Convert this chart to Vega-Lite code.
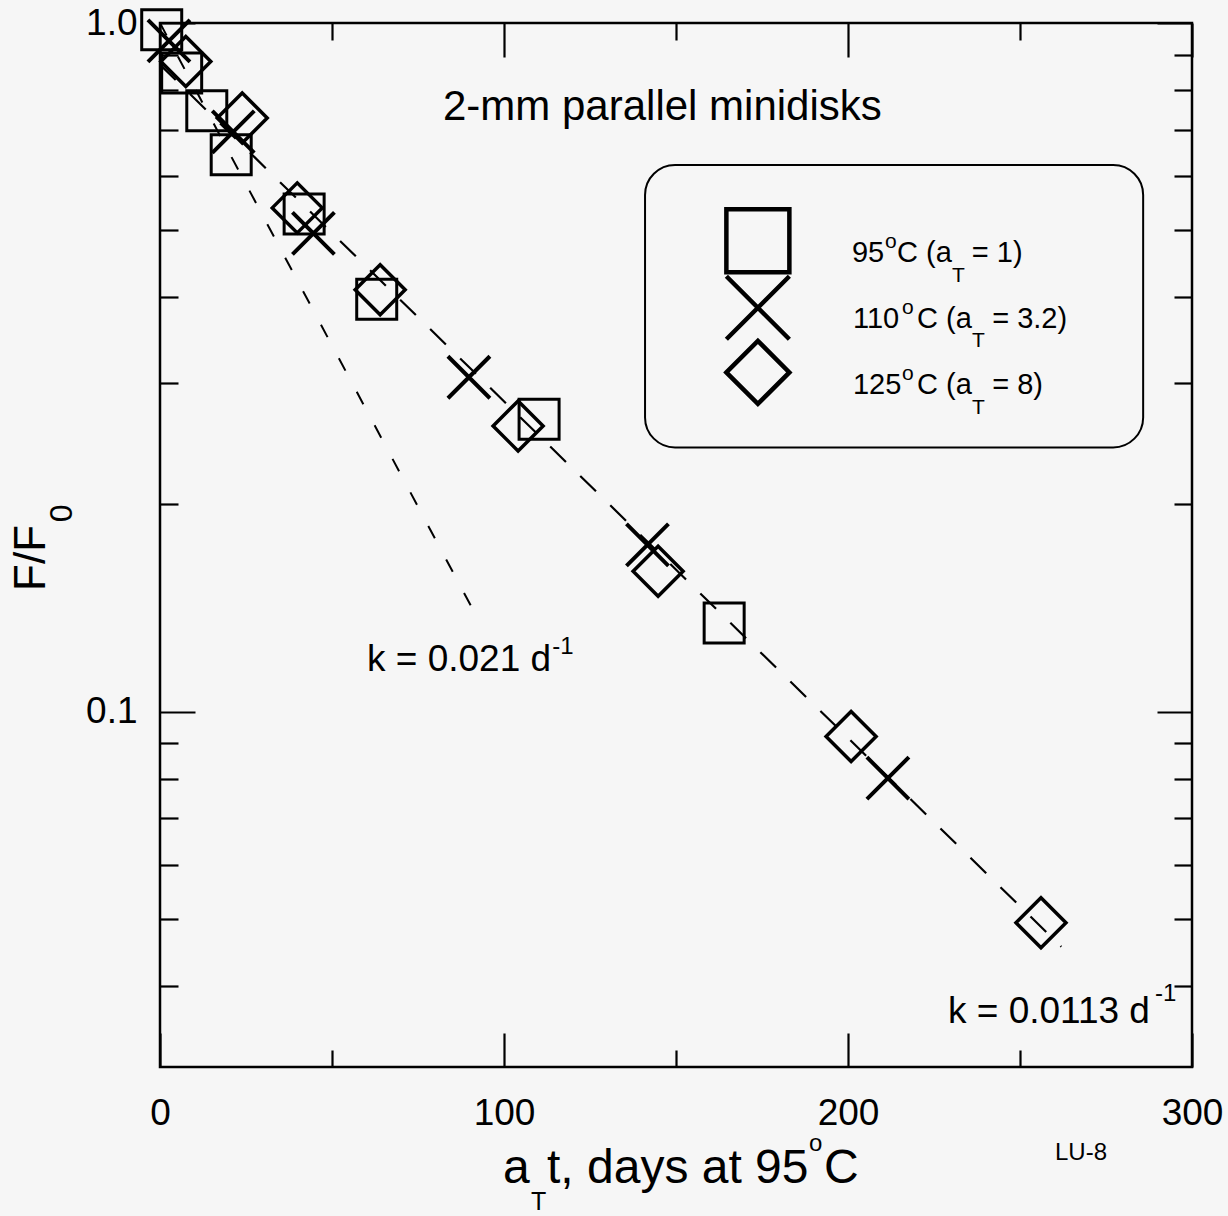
{
  "$schema": "https://vega.github.io/schema/vega-lite/v6.json",
  "width": 1032,
  "height": 1044,
  "autosize": {"type": "none"},
  "padding": {"left": 160, "top": 23, "right": 36, "bottom": 149},
  "background": "#f6f6f6",
  "config": {
    "font": "Liberation Sans",
    "view": {"stroke": "#000", "strokeWidth": 2.5},
    "axis": {
      "domain": false,
      "grid": false,
      "tickColor": "#000",
      "tickWidth": 2.2,
      "labelFont": "Liberation Sans",
      "labelFontSize": 37,
      "labelColor": "#000"
    }
  },
  "datasets": {
    "fit1": [
      {"x": 0, "y": 0.87},
      {"x": 262, "y": 0.0456}
    ],
    "fit2": [
      {"x": 0, "y": 1.0},
      {"x": 91.6, "y": 0.1388}
    ],
    "pts": [
      {"series": "95°C", "x": 0.5, "y": 0.978},
      {"series": "95°C", "x": 6.3, "y": 0.846},
      {"series": "95°C", "x": 13.6, "y": 0.746},
      {"series": "95°C", "x": 20.7, "y": 0.644},
      {"series": "95°C", "x": 41.9, "y": 0.528},
      {"series": "95°C", "x": 63.0, "y": 0.397},
      {"series": "95°C", "x": 110.2, "y": 0.266},
      {"series": "95°C", "x": 164.0, "y": 0.1346},
      {"series": "110°C", "x": 2.6, "y": 0.942},
      {"series": "110°C", "x": 21.3, "y": 0.695},
      {"series": "110°C", "x": 44.6, "y": 0.495},
      {"series": "110°C", "x": 89.8, "y": 0.306},
      {"series": "110°C", "x": 141.7, "y": 0.1747},
      {"series": "110°C", "x": 211.6, "y": 0.0801},
      {"series": "125°C", "x": 7.5, "y": 0.879},
      {"series": "125°C", "x": 23.9, "y": 0.728},
      {"series": "125°C", "x": 39.9, "y": 0.539},
      {"series": "125°C", "x": 64.0, "y": 0.41},
      {"series": "125°C", "x": 104.1, "y": 0.26},
      {"series": "125°C", "x": 144.8, "y": 0.16},
      {"series": "125°C", "x": 200.9, "y": 0.0921},
      {"series": "125°C", "x": 256.1, "y": 0.0494}
    ],
    "legsym": [
      {"series": "95°C", "x": 173.8, "y": 0.483},
      {"series": "110°C", "x": 173.8, "y": 0.386},
      {"series": "125°C", "x": 173.8, "y": 0.311}
    ],
    "box": [
      {"x": 141, "x2": 285.8, "y": 0.622, "y2": 0.242}
    ],
    "texts": [
      {"role": "title", "x": 82.27, "y": 0.7234, "text": "2-mm parallel minidisks"},
      {"role": "leg", "x": 201.16, "y": 0.4503, "text": "95"},
      {"role": "legsmall", "x": 210.76, "y": 0.472, "text": "o"},
      {"role": "leg", "x": 214.24, "y": 0.4503, "text": "C (a"},
      {"role": "legsmall", "x": 230.2, "y": 0.4212, "text": "T"},
      {"role": "leg", "x": 236.0, "y": 0.4503, "text": "= 1)"},
      {"role": "leg", "x": 201.45, "y": 0.3613, "text": "110"},
      {"role": "legsmall", "x": 215.7, "y": 0.3786, "text": "o"},
      {"role": "leg", "x": 220.06, "y": 0.3613, "text": "C (a"},
      {"role": "legsmall", "x": 236.05, "y": 0.338, "text": "T"},
      {"role": "leg", "x": 241.9, "y": 0.3613, "text": "= 3.2)"},
      {"role": "leg", "x": 201.45, "y": 0.2889, "text": "125"},
      {"role": "legsmall", "x": 215.7, "y": 0.3028, "text": "o"},
      {"role": "leg", "x": 220.06, "y": 0.2889, "text": "C (a"},
      {"role": "legsmall", "x": 236.05, "y": 0.2703, "text": "T"},
      {"role": "leg", "x": 241.9, "y": 0.2889, "text": "= 8)"},
      {"role": "k", "x": 60.17, "y": 0.1147, "text": "k = 0.021 d"},
      {"role": "ksmall", "x": 114.0, "y": 0.1214, "text": "-1"},
      {"role": "k", "x": 229.07, "y": 0.0353, "text": "k = 0.0113 d"},
      {"role": "ksmall", "x": 289.24, "y": 0.038, "text": "-1"},
      {"role": "xt", "x": 99.71, "y": 0.0207, "text": "a"},
      {"role": "xtsmall", "x": 107.85, "y": 0.01891, "text": "T"},
      {"role": "xt", "x": 112.5, "y": 0.0207, "text": "t, days at 95"},
      {"role": "xtsup", "x": 188.66, "y": 0.02303, "text": "o"},
      {"role": "xt", "x": 193.0, "y": 0.0207, "text": "C"},
      {"role": "tag", "x": 260.17, "y": 0.02235, "text": "LU-8"}
    ],
    "ytexts": [
      {"role": "yt", "x": -33.43, "y": 0.1498, "text": "F/F"},
      {"role": "ytsmall", "x": -25.58, "y": 0.1885, "text": "0"}
    ]
  },
  "layer": [
    {
      "data": {"name": "fit1"},
      "mark": {"type": "line", "color": "#000", "strokeWidth": 2.2, "strokeDash": [22, 20]},
      "encoding": {
        "x": {
          "field": "x", "type": "quantitative",
          "scale": {"domain": [0, 300], "nice": false, "zero": false},
          "axis": {
            "orient": "bottom",
            "title": null,
            "values": [0, 50, 100, 150, 200, 250, 300],
            "tickSize": {"condition": {"test": "datum.value % 100 === 0", "value": -34}, "value": -17},
            "labelPadding": 62,
            "labelFlush": false,
            "labelOverlap": false,
            "labelExpr": "datum.value % 100 === 0 ? datum.label : ''"
          }
        },
        "y": {
          "field": "y", "type": "quantitative",
          "scale": {"type": "log", "domain": [0.0305, 1.0], "nice": false, "zero": false},
          "axis": {
            "orient": "left",
            "title": null,
            "values": [0.04, 0.05, 0.06, 0.07, 0.08, 0.09, 0.1, 0.2, 0.3, 0.4, 0.5, 0.6, 0.7, 0.8, 0.9, 1],
            "tickSize": {"condition": {"test": "datum.value === 1 || datum.value === 0.1", "value": -35}, "value": -18},
            "labelPadding": 58,
            "labelFlush": false,
            "labelOverlap": false,
            "labelExpr": "datum.value === 1 ? '1.0' : (datum.value === 0.1 ? '0.1' : '')"
          }
        }
      }
    },
    {
      "data": {"name": "fit2"},
      "mark": {"type": "line", "color": "#000", "strokeWidth": 2, "strokeDash": [14, 24]},
      "encoding": {
        "x": {
          "field": "x", "type": "quantitative",
          "scale": {"domain": [0, 300], "nice": false, "zero": false},
          "axis": {
            "orient": "top",
            "title": null,
            "labels": false,
            "values": [0, 50, 100, 150, 200, 250, 300],
            "tickSize": {"condition": {"test": "datum.value % 100 === 0", "value": -34}, "value": -17}
          }
        },
        "y": {
          "field": "y", "type": "quantitative",
          "scale": {"type": "log", "domain": [0.0305, 1.0], "nice": false, "zero": false},
          "axis": {
            "orient": "right",
            "title": null,
            "labels": false,
            "values": [0.04, 0.05, 0.06, 0.07, 0.08, 0.09, 0.1, 0.2, 0.3, 0.4, 0.5, 0.6, 0.7, 0.8, 0.9, 1],
            "tickSize": {"condition": {"test": "datum.value === 1 || datum.value === 0.1", "value": -35}, "value": -18}
          }
        }
      }
    },
    {
      "data": {"name": "box"},
      "mark": {"type": "rect", "fill": null, "fillOpacity": 0, "stroke": "#000", "strokeWidth": 2, "cornerRadius": 30},
      "encoding": {
        "x": {"field": "x", "type": "quantitative", "axis": null},
        "x2": {"field": "x2"},
        "y": {"field": "y", "type": "quantitative", "axis": null},
        "y2": {"field": "y2"}
      }
    },
    {
      "data": {"name": "pts"},
      "mark": {"type": "point", "filled": false, "color": "#000", "opacity": 1},
      "encoding": {
        "x": {"field": "x", "type": "quantitative", "axis": null},
        "y": {"field": "y", "type": "quantitative", "axis": null},
        "shape": {
          "field": "series", "type": "nominal", "legend": null,
          "scale": {"domain": ["95°C", "110°C", "125°C"], "range": ["square", "M-1,-1L1,1M-1,1L1,-1", "diamond"]}
        },
        "size": {
          "field": "series", "type": "nominal", "legend": null,
          "scale": {"type": "ordinal", "domain": ["95°C", "110°C", "125°C"], "range": [1600, 1764, 2500]}
        },
        "strokeWidth": {
          "field": "series", "type": "nominal", "legend": null,
          "scale": {"type": "ordinal", "domain": ["95°C", "110°C", "125°C"], "range": [3, 4, 3.5]}
        }
      }
    },
    {
      "data": {"name": "legsym"},
      "mark": {"type": "point", "filled": false, "color": "#000", "opacity": 1, "size": 3969, "strokeWidth": 4.5},
      "encoding": {
        "x": {"field": "x", "type": "quantitative", "axis": null},
        "y": {"field": "y", "type": "quantitative", "axis": null},
        "shape": {
          "field": "series", "type": "nominal", "legend": null,
          "scale": {"domain": ["95°C", "110°C", "125°C"], "range": ["square", "M-1,-1L1,1M-1,1L1,-1", "diamond"]}
        }
      }
    },
    {
      "data": {"name": "texts"},
      "mark": {"type": "text", "align": "left", "baseline": "alphabetic", "color": "#000", "font": "Liberation Sans"},
      "encoding": {
        "x": {"field": "x", "type": "quantitative", "axis": null},
        "y": {"field": "y", "type": "quantitative", "axis": null},
        "text": {"field": "text", "type": "nominal"},
        "size": {
          "field": "role", "type": "nominal", "legend": null,
          "scale": {"type": "ordinal",
            "domain": ["title", "leg", "legsmall", "k", "ksmall", "xt", "xtsmall", "xtsup", "tag"],
            "range": [42, 29, 21, 37, 24, 48, 25, 24, 24]}
        }
      }
    },
    {
      "data": {"name": "ytexts"},
      "mark": {"type": "text", "align": "left", "baseline": "alphabetic", "color": "#000", "font": "Liberation Sans", "angle": 270},
      "encoding": {
        "x": {"field": "x", "type": "quantitative", "axis": null},
        "y": {"field": "y", "type": "quantitative", "axis": null},
        "text": {"field": "text", "type": "nominal"},
        "size": {
          "field": "role", "type": "nominal", "legend": null,
          "scale": {"type": "ordinal", "domain": ["yt", "ytsmall"], "range": [44, 32]}
        }
      }
    }
  ],
  "resolve": {
    "axis": {"x": "independent", "y": "independent"},
    "scale": {"size": "independent", "strokeWidth": "independent"}
  }
}
